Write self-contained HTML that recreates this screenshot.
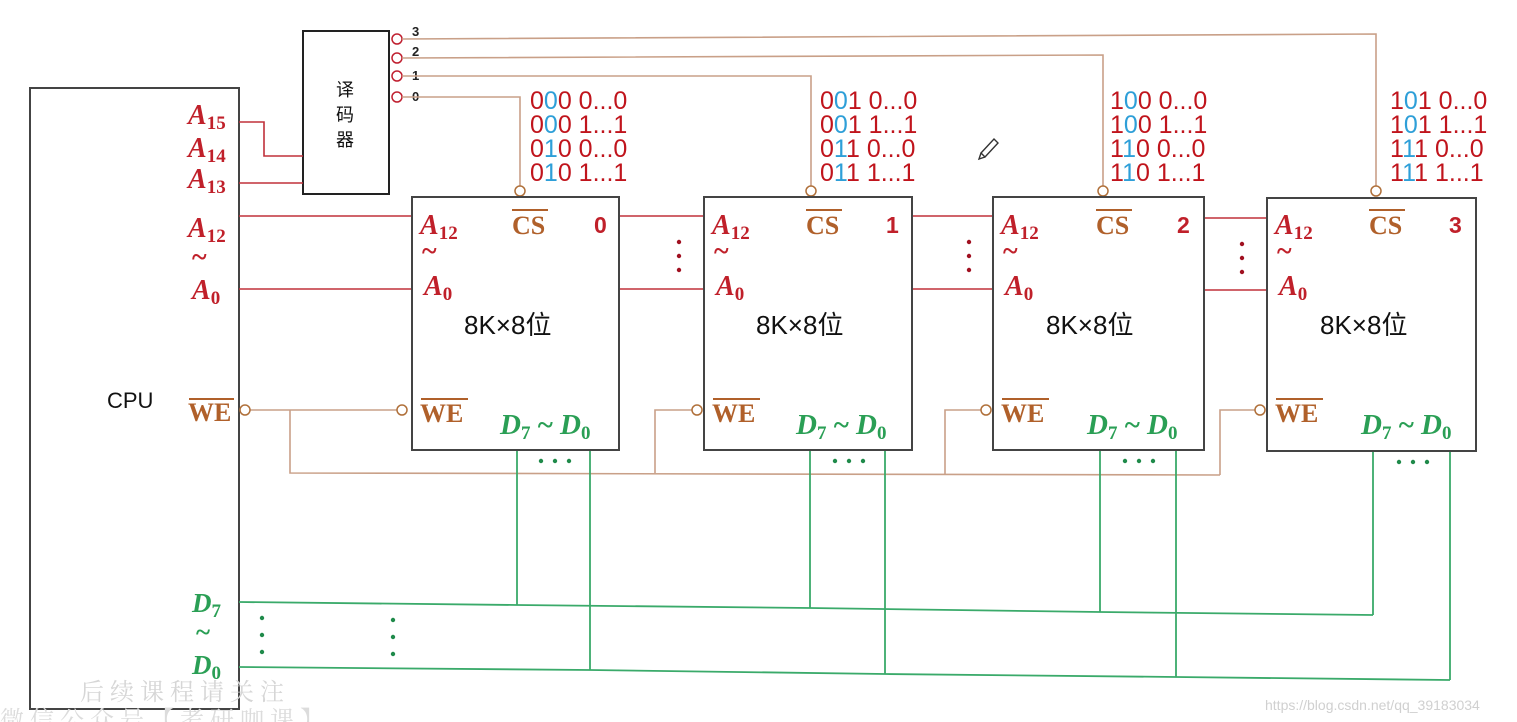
<!DOCTYPE html>
<html><head><meta charset="utf-8"><style>
html,body{margin:0;padding:0;background:#fff;}
svg{display:block;}
.A{font-family:"Liberation Serif",serif;font-style:italic;font-weight:bold;fill:#c0202a;font-size:28px;}
.sub{font-size:19px;font-style:normal;}
.br{font-family:"Liberation Serif",serif;font-weight:bold;fill:#b0602a;font-size:26px;}
.g{font-family:"Liberation Serif",serif;font-style:italic;font-weight:bold;fill:#2a9f55;font-size:29px;}
.num{font-family:"Liberation Sans",sans-serif;font-weight:bold;fill:#c0202a;font-size:23px;}
.ad{font-family:"Liberation Sans",sans-serif;fill:#c0141c;font-size:25px;}
.bl{fill:#2e9fd8;}
.k{font-family:"Liberation Sans","Noto Sans CJK SC",sans-serif;fill:#111;font-size:26px;}
</style></head><body>
<svg width="1517" height="722" viewBox="0 0 1517 722" xmlns="http://www.w3.org/2000/svg">
<!-- CPU -->
<rect x="30" y="88" width="209" height="621" fill="none" stroke="#444" stroke-width="2"/>
<text x="107" y="408" class="k" style="font-size:22px">CPU</text>
<text x="188" y="124" class="A">A<tspan class="sub" dy="5">15</tspan></text>
<text x="188" y="157" class="A">A<tspan class="sub" dy="5">14</tspan></text>
<text x="188" y="188" class="A">A<tspan class="sub" dy="5">13</tspan></text>
<text x="188" y="237" class="A">A<tspan class="sub" dy="5">12</tspan></text>
<text x="192" y="266" class="A" style="font-style:normal">~</text>
<text x="192" y="299" class="A">A<tspan class="sub" dy="5">0</tspan></text>
<text x="188" y="421" class="br">WE</text>
<line x1="189" y1="399" x2="234" y2="399" stroke="#b0602a" stroke-width="2"/>
<text x="192" y="612" class="g" style="font-size:27px">D<tspan class="sub" dy="5">7</tspan></text>
<text x="196" y="641" class="g" style="font-style:normal;font-size:27px">~</text>
<text x="192" y="674" class="g" style="font-size:27px">D<tspan class="sub" dy="5">0</tspan></text>

<!-- decoder -->
<rect x="303" y="31" width="86" height="163" fill="none" stroke="#222" stroke-width="2"/>
<text x="336" y="96" class="k" style="font-size:18px">译</text>
<text x="336" y="121" class="k" style="font-size:18px">码</text>
<text x="336" y="146" class="k" style="font-size:18px">器</text>
<g fill="none" stroke="#c02030" stroke-width="1.5">
<circle cx="397" cy="39" r="5"/><circle cx="397" cy="58" r="5"/><circle cx="397" cy="76" r="5"/><circle cx="397" cy="97" r="5"/>
</g>
<g font-family="Liberation Sans,sans-serif" font-size="13" font-weight="bold" fill="#222">
<text x="412" y="36">3</text><text x="412" y="56">2</text><text x="412" y="80">1</text><text x="412" y="101">0</text>
</g>
<g fill="none" stroke="#c9a088" stroke-width="1.6">
<polyline points="402,39 1376,34 1376,186"/>
<polyline points="402,58 1103,55 1103,186"/>
<polyline points="402,76 811,76 811,186"/>
<polyline points="402,97 520,97 520,186"/>
</g>
<g fill="none" stroke="#c0303a" stroke-width="1.6">
<polyline points="239,122 264,122 264,156 303,156"/>
<line x1="239" y1="183" x2="303" y2="183"/>
<line x1="239" y1="216" x2="412" y2="216"/>
<line x1="239" y1="289" x2="412" y2="289"/>
<line x1="619" y1="216" x2="704" y2="216"/><line x1="619" y1="289" x2="704" y2="289"/>
<line x1="912" y1="216" x2="993" y2="216"/><line x1="912" y1="289" x2="993" y2="289"/>
<line x1="1204" y1="218" x2="1267" y2="218"/><line x1="1204" y1="290" x2="1267" y2="290"/>
</g>
<g fill="#a01020">
<circle cx="679" cy="242" r="2.2"/><circle cx="679" cy="256" r="2.2"/><circle cx="679" cy="270" r="2.2"/>
<circle cx="969" cy="242" r="2.2"/><circle cx="969" cy="256" r="2.2"/><circle cx="969" cy="270" r="2.2"/>
<circle cx="1242" cy="244" r="2.2"/><circle cx="1242" cy="258" r="2.2"/><circle cx="1242" cy="272" r="2.2"/>
</g>

<!-- WE lines -->
<g fill="none" stroke="#c9a088" stroke-width="1.6">
<line x1="250" y1="410" x2="397" y2="410"/>
<polyline points="290,410 290,473 1220,475"/>
<polyline points="655,473 655,410 692,410"/>
<polyline points="945,474 945,410 981,410"/>
<polyline points="1220,475 1220,410 1255,410"/>
</g>
<g fill="#fff" stroke="#b0703a" stroke-width="1.5">
<circle cx="245" cy="410" r="5"/><circle cx="402" cy="410" r="5"/><circle cx="697" cy="410" r="5"/><circle cx="986" cy="410" r="5"/><circle cx="1260" cy="410" r="5"/>
<circle cx="520" cy="191" r="5"/><circle cx="811" cy="191" r="5"/><circle cx="1103" cy="191" r="5"/><circle cx="1376" cy="191" r="5"/>
</g>

<!-- data lines -->
<g fill="none" stroke="#3aaa6a" stroke-width="1.8">
<polyline points="239,602 517,605 810,608 1100,612 1373,615"/>
<polyline points="239,667 590,670 885,674 1176,677 1450,680"/>
<line x1="517" y1="450" x2="517" y2="605"/><line x1="590" y1="450" x2="590" y2="670"/>
<line x1="810" y1="450" x2="810" y2="608"/><line x1="885" y1="450" x2="885" y2="674"/>
<line x1="1100" y1="450" x2="1100" y2="612"/><line x1="1176" y1="450" x2="1176" y2="677"/>
<line x1="1373" y1="452" x2="1373" y2="615"/><line x1="1450" y1="452" x2="1450" y2="680"/>
</g>
<g fill="#1f8a4a">
<circle cx="541" cy="461" r="2.2"/><circle cx="555" cy="461" r="2.2"/><circle cx="569" cy="461" r="2.2"/>
<circle cx="835" cy="461" r="2.2"/><circle cx="849" cy="461" r="2.2"/><circle cx="863" cy="461" r="2.2"/>
<circle cx="1125" cy="461" r="2.2"/><circle cx="1139" cy="461" r="2.2"/><circle cx="1153" cy="461" r="2.2"/>
<circle cx="1399" cy="462" r="2.2"/><circle cx="1413" cy="462" r="2.2"/><circle cx="1427" cy="462" r="2.2"/>
<circle cx="262" cy="618" r="2.2"/><circle cx="262" cy="635" r="2.2"/><circle cx="262" cy="652" r="2.2"/>
<circle cx="393" cy="620" r="2.2"/><circle cx="393" cy="637" r="2.2"/><circle cx="393" cy="654" r="2.2"/>
</g>

<!-- chips -->
<g transform="translate(412,0)">
<rect x="0" y="197" width="207" height="253" fill="none" stroke="#444" stroke-width="2"/>
<text x="8" y="234" class="A">A<tspan class="sub" dy="5">12</tspan></text>
<text x="10" y="260" class="A" style="font-style:normal">~</text>
<text x="12" y="295" class="A">A<tspan class="sub" dy="5">0</tspan></text>
<text x="100" y="234" class="br">CS</text><line x1="100" y1="210" x2="136" y2="210" stroke="#b0602a" stroke-width="2"/>
<text x="182" y="233" class="num">0</text>
<text x="52" y="334" class="k">8K×8位</text>
<text x="8" y="422" class="br">WE</text><line x1="9" y1="399" x2="56" y2="399" stroke="#b0602a" stroke-width="2"/>
<text x="88" y="434" class="g">D<tspan class="sub" dy="5">7</tspan><tspan dy="-5" style="font-style:normal"> ~ </tspan>D<tspan class="sub" dy="5">0</tspan></text>
</g>
<g transform="translate(704,0)">
<rect x="0" y="197" width="208" height="253" fill="none" stroke="#444" stroke-width="2"/>
<text x="8" y="234" class="A">A<tspan class="sub" dy="5">12</tspan></text>
<text x="10" y="260" class="A" style="font-style:normal">~</text>
<text x="12" y="295" class="A">A<tspan class="sub" dy="5">0</tspan></text>
<text x="102" y="234" class="br">CS</text><line x1="102" y1="210" x2="138" y2="210" stroke="#b0602a" stroke-width="2"/>
<text x="182" y="233" class="num">1</text>
<text x="52" y="334" class="k">8K×8位</text>
<text x="8" y="422" class="br">WE</text><line x1="9" y1="399" x2="56" y2="399" stroke="#b0602a" stroke-width="2"/>
<text x="92" y="434" class="g">D<tspan class="sub" dy="5">7</tspan><tspan dy="-5" style="font-style:normal"> ~ </tspan>D<tspan class="sub" dy="5">0</tspan></text>
</g>
<g transform="translate(993,0)">
<rect x="0" y="197" width="211" height="253" fill="none" stroke="#444" stroke-width="2"/>
<text x="8" y="234" class="A">A<tspan class="sub" dy="5">12</tspan></text>
<text x="10" y="260" class="A" style="font-style:normal">~</text>
<text x="12" y="295" class="A">A<tspan class="sub" dy="5">0</tspan></text>
<text x="103" y="234" class="br">CS</text><line x1="103" y1="210" x2="139" y2="210" stroke="#b0602a" stroke-width="2"/>
<text x="184" y="233" class="num">2</text>
<text x="53" y="334" class="k">8K×8位</text>
<text x="8" y="422" class="br">WE</text><line x1="9" y1="399" x2="56" y2="399" stroke="#b0602a" stroke-width="2"/>
<text x="94" y="434" class="g">D<tspan class="sub" dy="5">7</tspan><tspan dy="-5" style="font-style:normal"> ~ </tspan>D<tspan class="sub" dy="5">0</tspan></text>
</g>
<g transform="translate(1267,0)">
<rect x="0" y="198" width="209" height="253" fill="none" stroke="#444" stroke-width="2"/>
<text x="8" y="234" class="A">A<tspan class="sub" dy="5">12</tspan></text>
<text x="10" y="260" class="A" style="font-style:normal">~</text>
<text x="12" y="295" class="A">A<tspan class="sub" dy="5">0</tspan></text>
<text x="102" y="234" class="br">CS</text><line x1="102" y1="210" x2="138" y2="210" stroke="#b0602a" stroke-width="2"/>
<text x="182" y="233" class="num">3</text>
<text x="53" y="334" class="k">8K×8位</text>
<text x="8" y="422" class="br">WE</text><line x1="9" y1="399" x2="56" y2="399" stroke="#b0602a" stroke-width="2"/>
<text x="94" y="434" class="g">D<tspan class="sub" dy="5">7</tspan><tspan dy="-5" style="font-style:normal"> ~ </tspan>D<tspan class="sub" dy="5">0</tspan></text>
</g>

<!-- address tables -->
<g class="ad">
<text x="530" y="109">0<tspan class="bl">0</tspan>0 0...0</text>
<text x="530" y="133">0<tspan class="bl">0</tspan>0 1...1</text>
<text x="530" y="157">0<tspan class="bl">1</tspan>0 0...0</text>
<text x="530" y="181">0<tspan class="bl">1</tspan>0 1...1</text>
<text x="820" y="109">0<tspan class="bl">0</tspan>1 0...0</text>
<text x="820" y="133">0<tspan class="bl">0</tspan>1 1...1</text>
<text x="820" y="157">0<tspan class="bl">1</tspan>1 0...0</text>
<text x="820" y="181">0<tspan class="bl">1</tspan>1 1...1</text>
<text x="1110" y="109">1<tspan class="bl">0</tspan>0 0...0</text>
<text x="1110" y="133">1<tspan class="bl">0</tspan>0 1...1</text>
<text x="1110" y="157">1<tspan class="bl">1</tspan>0 0...0</text>
<text x="1110" y="181">1<tspan class="bl">1</tspan>0 1...1</text>
<text x="1390" y="109">1<tspan class="bl">0</tspan>1 0...0</text>
<text x="1390" y="133">1<tspan class="bl">0</tspan>1 1...1</text>
<text x="1390" y="157">1<tspan class="bl">1</tspan>1 0...0</text>
<text x="1390" y="181">1<tspan class="bl">1</tspan>1 1...1</text>
</g>

<!-- pencil -->
<path d="M981,153 L994,139 L998,143 L985,157 Z M981,153 L979,159 L985,157" fill="none" stroke="#333" stroke-width="1.4"/>

<!-- watermarks -->
<text x="80" y="700" font-family="Liberation Serif,Noto Serif CJK SC,serif" font-size="24" fill="#d6d6d6" letter-spacing="6">后续课程请关注</text>
<text x="0" y="728" font-family="Liberation Serif,Noto Serif CJK SC,serif" font-size="24" fill="#dcdcdc" letter-spacing="6">微信公众号【考研咖课】</text>
<text x="1265" y="710" font-family="Liberation Sans,sans-serif" font-size="14" fill="#d0d0d0">https://blog.csdn.net/qq_39183034</text>
</svg>
</body></html>
